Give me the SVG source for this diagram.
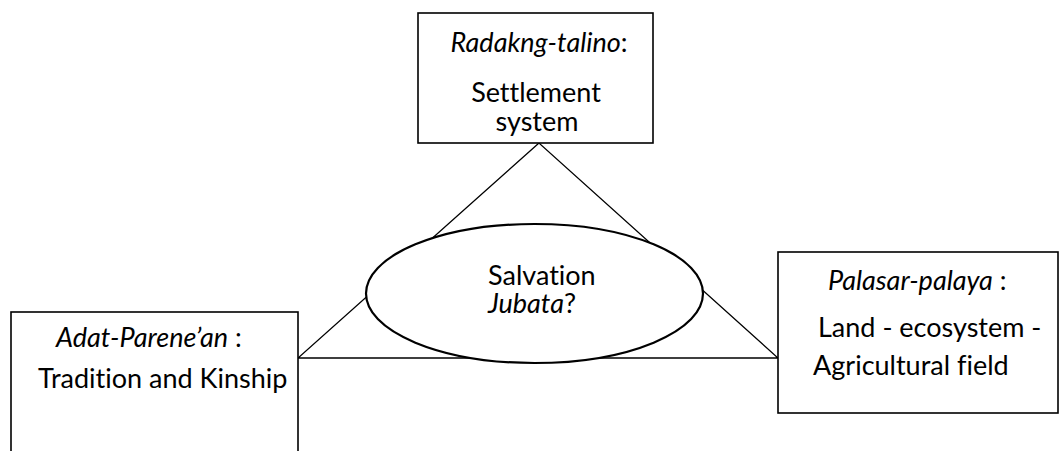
<svg xmlns="http://www.w3.org/2000/svg" width="1061" height="451" viewBox="0 0 1061 451">
<style>
.box{fill:#fff;stroke:#000;stroke-width:1.6}
.ln{fill:none;stroke:#000;stroke-width:1.3}
text{font-family:Lato,"Open Sans","Liberation Sans",sans-serif;font-size:27px;fill:#000;font-variant-ligatures:none;font-feature-settings:"liga" 0}
.i{font-style:italic}
</style>
<rect width="1061" height="451" fill="#fff"/>
<g id="connectors">
<polygon class="ln" points="539,143 298,358 778,358"/>
</g>
<g id="top">
<rect class="box" x="418" y="13" width="235" height="130"/>
<text x="539" y="52" text-anchor="middle"><tspan class="i">Radakng-talino</tspan>:</text>
<text x="536" y="102" text-anchor="middle">Settlement</text>
<text x="537" y="131" text-anchor="middle">system</text>
</g>
<g id="left">
<rect class="box" x="11" y="312" width="287" height="160"/>
<text x="56" y="347"><tspan class="i">Adat-Parene’an</tspan> :</text>
<text x="38" y="388">Tradition and Kinship</text>
</g>
<g id="right">
<rect class="box" x="778" y="252" width="280" height="161"/>
<text x="828" y="290"><tspan class="i">Palasar-palaya</tspan> :</text>
<text x="818" y="337">Land - ecosystem -</text>
<text x="813" y="375">Agricultural field</text>
</g>
<g id="center">
<ellipse cx="534.5" cy="293.5" rx="168.5" ry="69.5" fill="#fff" stroke="#000" stroke-width="2.2"/>
<text x="488" y="285">Salvation</text>
<text x="488" y="313"><tspan class="i">Jubata</tspan>?</text>
</g>
</svg>
